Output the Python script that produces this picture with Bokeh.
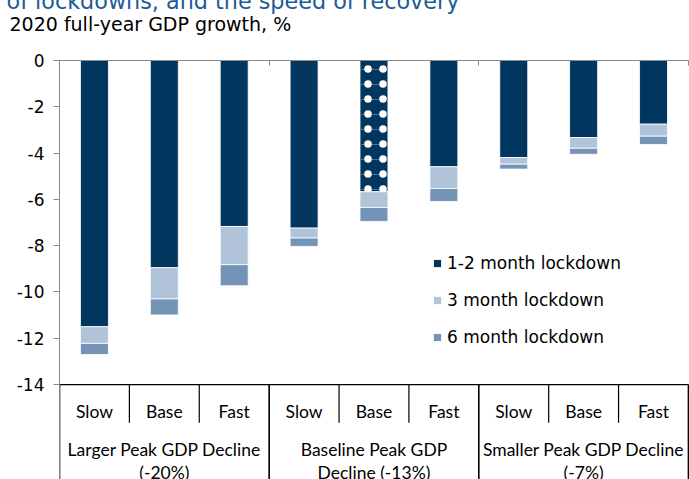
from bokeh.plotting import figure
from bokeh.models import Range1d, FixedTicker, ColumnDataSource, Legend, LegendItem, Title
from bokeh.core.properties import value
from bokeh.embed import file_html
from bokeh.resources import INLINE

# ---------------- data ----------------
scenarios = ["Slow", "Base", "Fast", "Slow", "Base", "Fast", "Slow", "Base", "Fast"]
group_line1 = ["Larger Peak GDP Decline", "Baseline Peak GDP", "Smaller Peak GDP Decline"]
group_line2 = ["(-20%)", "Decline (-13%)", "(-7%)"]
series_names = ["1-2 month lockdown", "3 month lockdown", "6 month lockdown"]
lockdown_1_2 = [-11.50, -8.95, -7.17, -7.24, -5.67, -4.59, -4.19, -3.33, -2.75]
extra_3m = [-0.72, -1.35, -1.65, -0.43, -0.68, -0.94, -0.29, -0.46, -0.52]
extra_6m = [-0.48, -0.69, -0.91, -0.36, -0.60, -0.56, -0.21, -0.26, -0.36]
y_ticks = [0, -2, -4, -6, -8, -10, -12, -14]
highlight = 4  # baseline / base scenario (patterned bar)

colors = ["#01365E", "#B1C3D9", "#7494B7"]

n = len(scenarios)
xc = [i + 0.5 for i in range(n)]
src = ColumnDataSource(dict(x=xc, a=lockdown_1_2, b=extra_3m, c=extra_6m))

SHIFT = 14  # canvas extends above the window so the title is cut like the reference
Y_MIN = -18.1
p = figure(width=689, height=479 + SHIFT, x_range=Range1d(0, n + 0.015), y_range=Range1d(Y_MIN, 0),
           output_backend="svg", toolbar_location=None, x_axis_location="above",
           min_border_left=59, min_border_right=0, min_border_top=60 + SHIFT,
           min_border_bottom=0, margin=(-SHIFT, 0, 0, 0))
p.outline_line_color = None
p.xgrid.visible = False
p.ygrid.visible = False
p.background_fill_color = "white"

rs = p.vbar_stack(["a", "b", "c"], x="x", width=0.4, source=src,
                  fill_color=colors, line_color="white", line_width=0.8)

# patterned highlighted bar
p.vbar(x=[xc[highlight]], top=[0], bottom=[lockdown_1_2[highlight]], width=0.4,
       fill_alpha=0, line_color=None, hatch_pattern="horizontal_line", hatch_color="#5B7DA3",
       hatch_scale=15, hatch_weight=1, hatch_alpha=0.8)
p.vbar(x=[xc[highlight]], top=[0], bottom=[lockdown_1_2[highlight]], width=0.4,
       fill_alpha=0, line_color=None, hatch_pattern="dot", hatch_color="white",
       hatch_scale=15, hatch_weight=0.9)

# axes
gray = "#8A8A8A"
ya = p.yaxis[0]
ya.ticker = FixedTicker(ticks=y_ticks)
ya.bounds = (y_ticks[-1], y_ticks[0])
ya.major_label_overrides = {t: str(t) for t in y_ticks}
ya.major_tick_in = 0
ya.major_tick_out = 6
ya.minor_tick_out = 0
ya.minor_tick_in = 0
ya.axis_line_color = gray
ya.major_tick_line_color = gray
ya.major_label_text_font = "DejaVu Sans"
ya.major_label_text_font_size = "17px"
ya.major_label_text_color = "black"
ya.major_label_standoff = 9

xa = p.xaxis[0]
xa.ticker = FixedTicker(ticks=[0, 3, 6, 9])
xa.bounds = (0, n)
xa.major_label_overrides = {0: " ", 3: " ", 6: " ", 9: " "}
xa.major_tick_in = 5
xa.major_tick_out = 0
xa.minor_tick_in = 0
xa.minor_tick_out = 0
xa.axis_line_color = gray
xa.major_tick_line_color = gray
xa.major_label_text_font_size = "1px"
xa.major_label_standoff = 20

# category table below the plot
y_tab = y_ticks[-1]
p.segment(x0=[0], x1=[n], y0=[y_tab], y1=[y_tab], line_color="black", line_width=1.2)
inner = [i for i in range(1, n) if i % 3 != 0]
outer = [i for i in range(0, n + 1) if i % 3 == 0]
p.segment(x0=inner, x1=inner, y0=[y_tab] * len(inner), y1=[-15.65] * len(inner),
          line_color="black", line_width=1.2)
p.segment(x0=outer, x1=outer, y0=[y_tab] * len(outer), y1=[Y_MIN - 1] * len(outer),
          line_color="black", line_width=1.6)
p.text(x=xc, y=[-15.15] * n, text=scenarios, text_font=value("Lato"),
       text_font_size="17.5px", text_align="center", text_baseline="middle", text_color="black")
gx = [1.5, 4.5, 7.5]
p.text(x=gx, y=[-16.8] * 3, text=group_line1, text_font=value("Lato"),
       text_font_size="17.5px", text_align="center", text_baseline="middle", text_color="black")
p.text(x=gx, y=[-17.8] * 3, text=group_line2, text_font=value("Lato"),
       text_font_size="17.5px", text_align="center", text_baseline="middle", text_color="black")

# titles (added nearest-first)
p.add_layout(Title(text="2020 full-year GDP growth, %", align="left", offset=-50,
                   text_font="DejaVu Sans", text_font_size="19px", text_font_style="normal",
                   text_color="black", standoff=4), "above")
p.add_layout(Title(text="of lockdowns, and the speed of recovery", align="left", offset=-53,
                   text_font="DejaVu Sans", text_font_size="22.3px", text_font_style="normal",
                   text_color="#1D5B97", standoff=-10), "above")

legend = Legend(items=[LegendItem(label=s, renderers=[r]) for s, r in zip(series_names, rs)],
                location=(373, 132), orientation="vertical", glyph_width=10, glyph_height=10,
                label_height=20, spacing=17, padding=0, margin=0, label_standoff=5,
                border_line_color=None, background_fill_alpha=0,
                label_text_font="DejaVu Sans", label_text_font_size="17px",
                label_text_color="black")
p.add_layout(legend)

open("out.html", "w").write(file_html(p, INLINE))
